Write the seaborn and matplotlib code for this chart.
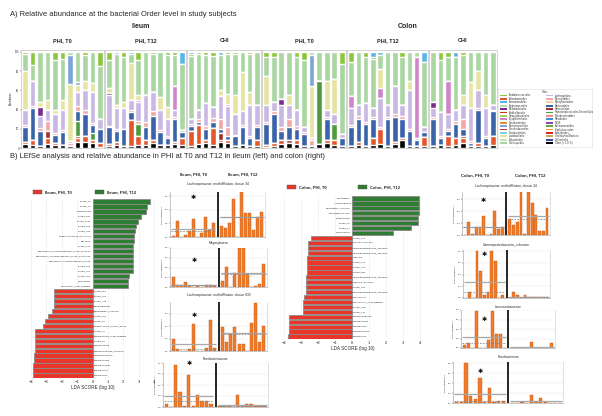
import numpy as np
import pandas as pd
import matplotlib
matplotlib.use("Agg")
import matplotlib.pyplot as plt
from matplotlib.patches import Rectangle
import seaborn as sns

W, H = 602, 416

# ---------------- A) relative abundance at Order level ----------------
# bars: Ileum PHI T0 (11) | Ileum PHI T12 (11) | Ileum CHI (10) | Colon PHI T0 (11) | Colon PHI T12 (11) | Colon CHI (9)
group_titles = ["PHI, T0", "PHI, T12", "CHI", "PHI, T0", "PHI, T12", "CHI"]
group_sizes = [11, 11, 10, 11, 11, 9]

ab_other = [4, 3, 2, 4, 3, 3, 2, 6, 6, 5, 1,  2, 3, 2, 2, 3, 3, 5, 3, 3, 4, 3,  2, 4, 5, 3, 6, 5, 2, 3, 2, 2,
            1, 2, 4, 5, 4, 2, 2, 4, 5, 3, 2,  2, 3, 2, 3, 4, 2, 4, 8, 2, 2, 2,  2, 3, 2, 3, 5, 2, 2, 2, 3]
ab_entero = [2, 5, 0, 6, 2, 0, 0, 4, 6, 3, 4,  2, 3, 0, 27, 10, 5, 3, 0, 0, 2, 7,  16, 20, 3, 18, 2, 3, 0, 0, 0, 6,
             2, 3, 4, 0, 4, 0, 0, 0, 3, 5, 0,  0, 3, 0, 7, 16, 0, 2, 2, 0, 0, 9,  0, 0, 10, 7, 5, 0, 3, 0, 9]
ab_pasteur = [0, 0, 0, 8, 0, 0, 0, 2, 0, 0, 0,  0, 0, 0, 0, 0, 0, 0, 0, 0, 0, 0,  0, 0, 0, 0, 8, 0, 0, 0, 0, 0,
              0, 0, 0, 3, 0, 0, 0, 0, 0, 0, 0,  0, 0, 0, 0, 0, 0, 0, 0, 0, 0, 0,  0, 0, 0, 0, 2, 0, 0, 0, 0]
ab_pepto = [0, 0, 0, 0, 0, 0, 0, 16, 0, 8, 0,  0, 0, 0, 0, 12, 0, 0, 0, 0, 0, 0,  0, 0, 0, 0, 0, 0, 0, 0, 0, 0,
            0, 0, 0, 0, 0, 0, 0, 66, 0, 17, 0,  0, 0, 0, 0, 0, 0, 0, 0, 0, 0, 0,  0, 0, 0, 0, 0, 0, 0, 0, 0]
ab_bacteroid = [16, 34, 16, 0, 9, 14, 0, 10, 23, 8, 15,  18, 12, 18, 8, 0, 14, 25, 14, 7, 24, 7,  5, 3, 12, 6, 4, 4, 10, 19, 8, 14,
                22, 30, 10, 14, 12, 13, 0, 0, 22, 0, 8,  20, 24, 23, 20, 0, 28, 26, 20, 16, 6, 6,  28, 7, 6, 15, 8, 3, 35, 8, 26]
ab_pink = [2, 2, 3, 10, 2, 2, 3, 6, 5, 2, 0,  1, 2, 0, 3, 3, 5, 5, 2, 2, 2, 0,  2, 3, 3, 4, 10, 10, 2, 2, 2, 2,
           2, 3, 4, 8, 3, 2, 6, 0, 2, 0, 0,  2, 3, 2, 2, 2, 2, 3, 3, 2, 0, 0,  2, 2, 2, 3, 10, 2, 2, 2, 2]
ab_lachno = [16, 26, 12, 12, 19, 21, 2, 14, 20, 32, 10,  32, 22, 22, 10, 20, 28, 20, 21, 18, 8, 2,  5, 10, 24, 12, 24, 22, 21, 15, 33, 21,
             18, 10, 23, 15, 17, 5, 2, 0, 8, 10, 5,  18, 12, 20, 10, 30, 13, 30, 12, 40, 2, 5,  10, 25, 15, 12, 15, 35, 18, 30, 5]
ab_bifido = [0, 0, 10, 0, 0, 0, 0, 0, 0, 0, 0,  2, 0, 0, 0, 0, 0, 0, 0, 0, 0, 0,  0, 0, 0, 0, 0, 0, 0, 0, 0, 0,
             0, 0, 6, 0, 0, 0, 0, 0, 0, 0, 0,  0, 0, 0, 0, 0, 0, 0, 0, 0, 0, 0,  6, 0, 0, 0, 0, 0, 0, 0, 0]
ab_erysip = [0, 0, 0, 0, 0, 0, 0, 0, 0, 0, 0,  0, 0, 0, 0, 2, 0, 0, 0, 0, 25, 0,  0, 0, 0, 0, 0, 2, 0, 0, 0, 0,
             0, 0, 0, 0, 0, 0, 0, 0, 0, 0, 0,  12, 0, 0, 0, 10, 0, 0, 0, 0, 85, 0,  0, 0, 35, 0, 0, 0, 0, 0, 0]
ab_lacto = [40, 0, 5, 10, 5, 10, 60, 8, 10, 10, 0,  5, 3, 6, 38, 5, 0, 0, 13, 13, 0, 0,  0, 0, 0, 0, 6, 10, 20, 40, 13, 0,
            30, 0, 0, 10, 0, 0, 55, 0, 30, 37, 0,  0, 0, 0, 0, 20, 0, 0, 0, 10, 0, 0,  0, 0, 0, 0, 10, 27, 20, 13, 0]
ab_christ = [0, 0, 0, 0, 0, 0, 30, 3, 0, 0, 0,  0, 0, 0, 0, 0, 0, 0, 0, 0, 0, 0,  0, 0, 0, 0, 0, 0, 0, 0, 0, 0,
             0, 0, 0, 0, 0, 0, 32, 0, 0, 0, 0,  0, 0, 0, 0, 0, 0, 0, 0, 0, 0, 0,  0, 0, 0, 0, 0, 0, 0, 0, 0]
ab_oscillo = [18, 16, 52, 50, 52, 43, 3, 31, 27, 32, 55,  30, 53, 47, 10, 37, 45, 40, 47, 54, 32, 68,  66, 58, 50, 53, 37, 42, 43, 21, 40, 55,
              20, 47, 49, 45, 55, 70, 3, 30, 30, 28, 72,  36, 55, 48, 51, 15, 55, 35, 50, 30, 5, 68,  52, 55, 25, 55, 42, 31, 20, 45, 55]
ab_acidamino = [2, 14, 0, 0, 8, 7, 0, 0, 3, 0, 15,  8, 0, 5, 0, 8, 0, 2, 0, 3, 3, 0,  2, 2, 3, 4, 0, 2, 2, 0, 2, 0,
                5, 5, 0, 0, 5, 8, 0, 0, 0, 0, 13,  10, 0, 5, 2, 0, 0, 0, 5, 0, 0, 0,  0, 8, 5, 0, 3, 0, 0, 0, 0]
ab_aeromonad = [0, 0, 0, 0, 0, 0, 0, 0, 0, 0, 0,  0, 2, 0, 2, 0, 0, 0, 0, 0, 0, 13,  2, 0, 0, 0, 3, 0, 0, 0, 0, 0,
                0, 0, 0, 0, 0, 0, 0, 0, 0, 0, 0,  0, 0, 0, 5, 3, 0, 0, 0, 0, 0, 10,  0, 0, 0, 5, 0, 0, 0, 0, 0]

# stacking order, bottom -> top
stack_values = [ab_other, ab_entero, ab_pasteur, ab_pepto, ab_bacteroid, ab_pink, ab_lachno, ab_bifido,
                ab_erysip, ab_lacto, ab_christ, ab_oscillo, ab_acidamino, ab_aeromonad]
stack_colors = ["#000000", "#e4572e", "#9e2f2a", "#4f9a3c", "#3b63a8", "#f4a6a6", "#c9b8e3", "#7b2d8e",
                "#cf86c8", "#e6e4a3", "#7ea3d8", "#a9d6a1", "#8cc63f", "#5ab4e6"]

legend_names = ["Acidaminococcales", "Enterobacterales", "Aeromonadales", "Actinomycetales", "Bifidobacteriales",
                "Burkholderiales", "Campylobacterales", "Erysipelotrichales", "Coriobacteriales", "Christensenellales",
                "Desulfovibrionales", "Fusobacteriales", "Lactobacillales", "Eubacteriales", "Oscillospirales",
                "Lachnospirales", "Monoglobales", "Mycoplasmatales", "Bacteroidales", "Pasteurellales",
                "Peptostreptococcales-Tissierellales", "Pseudomonadales", "Rhizobiales", "RF39", "Selenomonadales",
                "Staphylococcales", "Synergistales", "Unclassified Bacteria", "Veillonellales", "Other (< 1.0 %)"]
legend_colors = ["#8cc63f", "#e4572e", "#5ab4e6", "#b7dcb0", "#7b2d8e", "#d7301f", "#a3d45a", "#cf86c8",
                 "#e88a3a", "#7ea3d8", "#b03a2e", "#7fd0e0", "#e6e4a3", "#c6e3b9", "#a9d6a1",
                 "#c9b8e3", "#f4a6a6", "#f5cf9f", "#3b63a8", "#9e2f2a", "#4f9a3c", "#f28b8b", "#3d8fd1",
                 "#8e44ad", "#5aa846", "#f39c38", "#d62728", "#c7a35a", "#3f4aa0", "#000000"]

# ---------------- B) LEfSe ----------------
ileum_feat = ["Cluster_59", "Cluster_26", "Megasphaera", "Cluster_806", "Cluster_1697", "Cluster_996", "Cluster_296",
              "Ruminococcaceae_uncultured", "UBA1819", "Cluster_176", "Eubacterium_coprostanoligenes_group_unknown",
              "Eubacterium_coprostanoligenes_group_uncultured", "Eubacterium_coprostanoligenes_group",
              "Cluster_236", "Cluster_225", "Cluster_456", "Oscillibacter", "Oscillibacter_multi_affiliation",
              "Cluster_854", "Cluster_759", "Cluster_738", "Bacteroidaceae", "Bacteroidales_unknown", "Cluster_510",
              "Cluster_83", "Ruminococcus_torques_group", "Cluster_34", "Fusobacterium_multi_affiliation", "Cluster_56",
              "Veillonellaceae", "Fusobacteriaceae_unknown", "Fusobacteriaceae", "Fusobacterium", "Fusobacteriales",
              "Fusobacteriia", "Fusobacteria"]
ileum_lda = [3.7, 3.55, 3.45, 3.15, 2.95, 2.85, 2.75, 2.7, 2.7, 2.6, 2.6, 2.6, 2.6, 2.6, 2.6, 2.35, 2.3, 2.3,
             -2.5, -2.5, -2.5, -2.5, -2.6, -2.9, -3.1, -3.2, -3.7, -3.7, -3.75, -3.75, -3.75, -3.8, -3.8, -3.85,
             -3.85, -3.85]

colon_feat = ["Succinivibrio", "Aeromonadales", "Succinivibrio_unknown", "Succinivibrionaceae", "Ruminobacter",
              "Cluster_36", "Cluster_64", "Holdemanella",
              "Cluster_313", "Leuconostocaceae", "Gammaproteobacteria_unknown", "Gammaproteobacteria_unknown",
              "Weissella", "Cluster_464", "Cluster_752", "Cluster_989", "Gammaproteobacteria_unknown",
              "Weissella_unknown", "Cluster_330", "Gammaproteobacteria_unknown", "Leuconostoc",
              "Leuconostoc_multi_affiliation", "Cluster_336", "Cluster_445", "Fusobacteriaceae", "Fusobacterium",
              "Fusobacteriia", "Fusobacteriales", "Fusobacteria"]
colon_lda = [3.95, 3.95, 3.95, 3.95, 3.9, 3.9, 3.45, 2.4,
             -2.4, -2.6, -2.6, -2.6, -2.65, -2.65, -2.65, -2.65, -2.7, -2.7, -2.7, -2.7, -2.8, -2.9, -2.9, -2.9,
             -3.7, -3.7, -3.7, -3.7, -3.75]

# ---------------- B) relative abundance per subject (T0 | T12) ----------------
ileum_titles = ["Lachnospiraceae, multiaffiliation, cluster 34", "Megasphaera",
                "Lachnospiraceae, multiaffiliation, cluster 830", "Fusobacteriaceae"]
ileum_t0 = [[0.05, 1.2, 0, 0.15, 0.45, 1.3, 0, 0.3, 1.45, 0.55, 1.0],
            [1.0, 0.2, 0.2, 0.5, 0.15, 0, 0.15, 0, 0.2, 0.2, 0.15],
            [0.95, 0.2, 0, 0, 0.2, 2.15, 0, 0, 0.25, 2.55, 0.25],
            [0.3, 0, 3.8, 1.4, 0.1, 2.9, 0.1, 1.1, 0.55, 0.55, 0.25]]
ileum_t12 = [[0.8, 0.65, 1.0, 2.8, 0, 3.3, 1.75, 1.75, 0.5, 1.45, 1.8],
             [0.6, 2.1, 0, 1.45, 4.0, 4.0, 1.3, 0, 0.1, 0.3, 2.35],
             [1.95, 0.75, 1.4, 1.95, 0.55, 0.55, 0, 2.3, 3.9, 0.75, 2.0],
             [0.1, 0.1, 0.1, 0, 1.1, 0.1, 0.25, 0.25, 0.1, 0.1, 0.1]]
ileum_ymax = [3.3, 4.0, 3.97, 4.0]

colon_titles = ["Lachnospiraceae, multiaffiliation, cluster 34", "Gammaproteobacteria_unknown",
                "Leuconostocaceae", "Fusobacterium"]
colon_t0 = [[0, 1.1, 0.1, 0.65, 0.7, 1.55, 0, 0.1, 2.05, 0.5, 0.7],
            [0, 0.55, 0, 4.0, 2.3, 0.25, 0.55, 4.0, 3.15, 0, 0.25],
            [0.3, 0.55, 0, 3.9, 0, 0, 0.8, 3.9, 1.45, 1.45, 0],
            [0.1, 0.1, 4.0, 0.75, 0.4, 2.5, 0.1, 1.5, 0.15, 0.25, 0.2]]
colon_t12 = [[1.3, 0.8, 1.1, 3.6, 0.1, 3.6, 2.7, 1.65, 0.35, 0.35, 2.3],
             [0, 0.5, 0.25, 0, 0.25, 0.05, 0.05, 0.05, 0.05, 0.1, 0.05],
             [0.05, 0.05, 0.05, 0.05, 0.05, 0.65, 0.05, 0.05, 0.05, 0.05, 0.55],
             [0.05, 0.05, 0.15, 0, 0.85, 0.1, 0.5, 0.15, 0, 0.05, 0]]
colon_ymax = [3.6, 4.1, 4.0, 4.1]

RED, GREEN, ORANGE = "#e8372a", "#2f7d32", "#f07b29"

# ---------------- figure ----------------
sns.set_theme(style="white")
plt.rcParams["font.family"] = ["Liberation Sans", "DejaVu Sans"]
fig = plt.figure(figsize=(W / 100, H / 100), dpi=100)
fig.patch.set_facecolor("white")


def rect(x0, y0, x1, y1):
    return [x0 / W, 1 - y1 / H, (x1 - x0) / W, (y1 - y0) / H]


def ftext(x, y, s, **kw):
    kw.setdefault("ha", "center")
    kw.setdefault("va", "center")
    fig.text(x / W, 1 - y / H, s, **kw)


# --- A ---
ftext(10, 15, "A) Relative abundance at the bacterial Order level in study subjects", ha="left", fontsize=5.4)
ftext(141, 27, "Ileum", fontsize=5, fontweight="bold")
ftext(408, 27, "Colon", fontsize=5, fontweight="bold")

panel_x = [(21, 104), (105, 186), (187, 261), (262, 346), (347, 428), (429, 497)]
cum = np.cumsum(np.array(stack_values, dtype=float), axis=0)
starts = np.cumsum([0] + group_sizes)
for g, (x0, x1) in enumerate(panel_x):
    ax = fig.add_axes(rect(x0, 50, x1, 148))
    sl = slice(starts[g], starts[g + 1])
    idx = np.arange(group_sizes[g])
    for k in range(len(stack_values) - 1, -1, -1):
        sns.barplot(x=idx, y=cum[k, sl], color=stack_colors[k], saturation=1, width=0.76,
                    errorbar=None, ax=ax)
    ax.set_xlim(-0.55, group_sizes[g] - 0.45)
    ax.set_ylim(0, 102)
    ax.set_xticks([])
    ax.set_xlabel("")
    ax.set_ylabel("")
    for sp in ax.spines.values():
        sp.set_color("#c4c4c4")
        sp.set_linewidth(0.5)
    if g == 0:
        ax.set_yticks([0, 20, 40, 60, 80, 100])
        ax.tick_params(axis="y", labelsize=1.8, length=1, width=0.3, pad=0.5, left=True)
        ax.set_ylabel("Abundance", fontsize=1.8, labelpad=1)
    else:
        ax.set_yticks([])
    ftext((x0 + x1) / 2, 41, group_titles[g], fontsize=4, fontweight="bold")

# Order legend box (two columns of 15)
lax = fig.add_axes(rect(498, 89, 592, 147))
lax.set_xlim(0, 94)
lax.set_ylim(58, 0)
lax.set_xticks([])
lax.set_yticks([])
for sp in lax.spines.values():
    sp.set_color("#dddddd")
    sp.set_linewidth(0.4)
lax.text(47, 2.6, "Order", ha="center", va="center", fontsize=1.9, color="#444444")
for j, (name, col) in enumerate(zip(legend_names, legend_colors)):
    cx = 2 if j < 15 else 48
    cy = 6.5 + (j % 15) * 3.4
    lax.add_patch(Rectangle((cx, cy - 0.9), 7, 1.8, facecolor=col, edgecolor="none"))
    lax.text(cx + 9, cy, name, ha="left", va="center", fontsize=1.8, color="#333333")

# --- B ---
ftext(10, 157, "B) LEfSe analysis and relative abundance in PHI at T0 and T12 in ileum (left) and colon (right)",
      ha="left", fontsize=5.4)


def lefse(box, names, scores, xlim):
    ax = fig.add_axes(rect(*box))
    df = pd.DataFrame({"pos": np.arange(len(names)), "lda": scores,
                       "grp": np.where(np.array(scores) > 0, "T12", "T0")})
    sns.barplot(data=df, x="lda", y="pos", hue="grp", palette={"T0": RED, "T12": GREEN}, orient="h",
                dodge=False, width=0.86, edgecolor="#8a8a8a", linewidth=0.6, saturation=1,
                legend=False, ax=ax)
    for i, (n, s) in enumerate(zip(names, scores)):
        if s > 0:
            ax.text(-0.07, i, n, ha="right", va="center", fontsize=1.7, color="#222222")
        else:
            ax.text(0.07, i, n, ha="left", va="center", fontsize=1.7, color="#222222")
    ax.set_xlim(*xlim)
    ax.set_xticks(range(-4, 5))
    ax.set_yticks([])
    ax.set_ylabel("")
    ax.set_xlabel("LDA SCORE (log 10)", fontsize=3.3, labelpad=1)
    ax.tick_params(axis="x", labelsize=3, length=0, pad=1.5)
    ax.xaxis.grid(True, ls=(0, (1, 1.5)), color="#cfcfcf", lw=0.4)
    ax.set_axisbelow(True)
    for sp in ax.spines.values():
        sp.set_visible(False)


def legend_pair(y, items):
    for px, label, col in items:
        fig.add_artist(Rectangle((px / W, 1 - (y + 1.8) / H), 9 / W, 3.6 / H, facecolor=col,
                                 edgecolor="#555555", lw=0.3, transform=fig.transFigure))
        ftext(px + 12, y, label, ha="left", fontsize=3, fontweight="bold")


lefse((27, 199, 158, 378), ileum_feat, ileum_lda, (-4.25, 4.25))
legend_pair(192, [(33, "Ileum, PHI, T0", RED), (95, "Ileum, PHI, T12", GREEN)])
lefse((280, 196, 425, 339), colon_feat, colon_lda, (-4.24, 4.3))
legend_pair(187, [(287, "Colon, PHI, T0", RED), (358, "Colon, PHI, T12", GREEN)])


def abund(box, left, right, ymax, title, title_y, star_y, div_lw):
    ax = fig.add_axes(rect(*box))
    n1 = len(left)
    pos = np.r_[np.arange(n1), np.arange(len(right)) + n1 + 1]
    vals = np.r_[left, right]
    sns.barplot(x=pos, y=vals, native_scale=True, color=ORANGE, saturation=1, width=0.75,
                edgecolor="#c9561a", linewidth=0.3, errorbar=None, ax=ax)
    ax.axvline(n1, color="black", lw=div_lw)
    for grp, a, b in [(left, -0.5, n1 - 0.5), (right, n1 + 0.5, n1 + len(right) + 0.5)]:
        ax.hlines(np.mean(grp), a, b, color="#a8a8a8", lw=0.9)
        ax.hlines(np.median(grp), a, b, color="#8c8c8c", lw=0.6, ls=(0, (2, 1.5)))
    ax.text((n1 - 1) / 2, star_y * ymax, "\u2731", ha="center", va="center", fontsize=4.5,
            family="DejaVu Sans", color="#111111")
    ax.set_xlim(-0.8, n1 + len(right) + 0.8)
    ax.set_ylim(0, ymax)
    ax.set_xticks([])
    ax.set_xlabel("")
    ax.set_yticks(np.arange(0, ymax + 0.01, 1))
    ax.set_yticklabels([f"{v:.2f}" for v in np.arange(0, ymax + 0.01, 1)])
    ax.tick_params(axis="y", labelsize=1.4, length=0.8, width=0.3, pad=0.5, left=True)
    ax.set_ylabel("Relative abundance %", fontsize=1.4, labelpad=1)
    ax.yaxis.grid(True, color="#e6e6e6", lw=0.3)
    ax.set_axisbelow(True)
    ax.spines["top"].set_visible(False)
    ax.spines["right"].set_color("#c8c8c8")
    ax.spines["left"].set_color("#9a9a9a")
    ax.spines["bottom"].set_color("#9a9a9a")
    for sp in ax.spines.values():
        sp.set_linewidth(0.4)
    ftext((box[0] + box[2]) / 2, title_y, title, fontsize=2.3)


ftext(193, 174, "Ileum, PHI, T0", fontsize=3.1, fontweight="bold")
ftext(243, 174, "Ileum, PHI, T12", fontsize=3.1, fontweight="bold")
ileum_boxes = [(170, 192, 265, 237), (170, 248, 267, 287), (170, 302, 267, 351), (163, 363, 268, 407)]
ileum_title_y = [184, 243, 295, 359]
ileum_star = [0.88, 0.68, 0.72, 0.98]
for i in range(4):
    abund(ileum_boxes[i], ileum_t0[i], ileum_t12[i], ileum_ymax[i], ileum_titles[i], ileum_title_y[i],
          ileum_star[i], 1.2)

ftext(475, 175, "Colon, PHI, T0", fontsize=3.1, fontweight="bold")
ftext(530, 175, "Colon, PHI, T12", fontsize=3.1, fontweight="bold")
colon_boxes = [(462, 192, 550, 235), (463, 250, 550, 298), (461, 310, 555, 348), (453, 362, 563, 403)]
colon_title_y = [185.5, 245, 307, 357]
colon_star = [0.8, 0.9, 0.75, 0.77]
for i in range(4):
    abund(colon_boxes[i], colon_t0[i], colon_t12[i], colon_ymax[i], colon_titles[i], colon_title_y[i],
          colon_star[i], 1.2)

fig.savefig("out.png", dpi=100, facecolor="white")
